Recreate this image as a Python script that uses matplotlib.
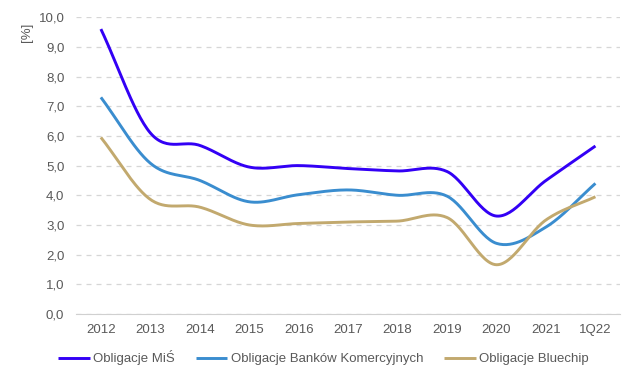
import matplotlib
matplotlib.use("Agg")
import matplotlib.pyplot as plt
import numpy as np

plt.rcParams['font.family'] = ['Liberation Sans', 'DejaVu Sans']

years = ['2012', '2013', '2014', '2015', '2016', '2017', '2018', '2019', '2020', '2021', '1Q22']
mis = [9.6, 6.1, 5.68, 4.95, 5.0, 4.9, 4.82, 4.8, 3.3, 4.5, 5.66]
banki = [7.3, 5.08, 4.5, 3.78, 4.02, 4.18, 4.0, 3.97, 2.38, 2.93, 4.4]
bluechip = [5.95, 3.86, 3.6, 3.0, 3.05, 3.1, 3.13, 3.25, 1.66, 3.17, 3.95]

names = ['Obligacje MiŚ', 'Obligacje Banków Komercyjnych', 'Obligacje Bluechip']
colors = ['#3300F5', '#3A8DCF', '#C2A96E']


def smooth(y, n=30):
    # Catmull-Rom curve through the points, like Excel's smoothed line
    y = np.asarray(y, dtype=float)
    x = np.arange(len(y), dtype=float)
    px = np.concatenate([[2 * x[0] - x[1]], x, [2 * x[-1] - x[-2]]])
    py = np.concatenate([[2 * y[0] - y[1]], y, [2 * y[-1] - y[-2]]])
    xs, ys = [], []
    t = np.linspace(0, 1, n, endpoint=False)
    for i in range(1, len(px) - 2):
        for p, out in ((px, xs), (py, ys)):
            p0, p1, p2, p3 = p[i - 1], p[i], p[i + 1], p[i + 2]
            out.extend(0.5 * ((2 * p1) + (-p0 + p2) * t
                              + (2 * p0 - 5 * p1 + 4 * p2 - p3) * t ** 2
                              + (-p0 + 3 * p1 - 3 * p2 + p3) * t ** 3))
    xs.append(x[-1])
    ys.append(y[-1])
    return np.array(xs), np.array(ys)


fig = plt.figure(figsize=(6.4, 3.82), dpi=100)
ax = fig.add_axes([0.119, 0.178, 0.85, 0.777])

for vals, name, c in zip([mis, banki, bluechip], names, colors):
    sx, sy = smooth(vals)
    ax.plot(sx, sy, color=c, lw=2.1, label=name, solid_capstyle='butt')

ax.set_xlim(-0.5, len(years) - 0.5)
ax.set_ylim(0, 10)
ax.set_yticks(np.arange(0, 11, 1))
ax.set_yticklabels([f'{v:.1f}'.replace('.', ',') for v in np.arange(0, 11, 1)])
ax.set_xticks(range(len(years)))
ax.set_xticklabels(years)
ax.tick_params(length=0, labelsize=9.5, labelcolor='#595959')
ax.tick_params(axis='x', pad=7)
ax.tick_params(axis='y', pad=8.5)
for s in ['top', 'right', 'left']:
    ax.spines[s].set_visible(False)
ax.spines['bottom'].set_color('#d0d0d0')
ax.yaxis.grid(True, linestyle=(0, (4, 4)), color='#d6d6d6', lw=0.9)
ax.set_axisbelow(True)

fig.text(0.042, 0.94, '[%]', rotation=90, fontsize=9.5, color='#595959',
         ha='center', va='top')

fig.legend(loc='center left', bbox_to_anchor=(0.091, 0.063), ncol=3, frameon=False,
           fontsize=9.5, handlelength=2.4, handletextpad=0.23, columnspacing=1.6,
           labelcolor='#595959', borderaxespad=0, borderpad=0)

fig.savefig('out.png', dpi=100)
